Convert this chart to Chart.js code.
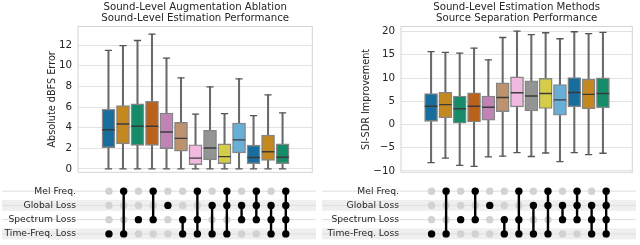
<!DOCTYPE html>
<html>
<head>
<meta charset="utf-8">
<script src="https://cdn.jsdelivr.net/npm/chart.js@4.4.1/dist/chart.umd.min.js"></script>
<style>
  body { margin: 0; background: #fff; }
  #wrap { position: relative; width: 640px; height: 245px; overflow: hidden; }
  canvas { position: absolute; }
</style>
</head>
<body>
<div id="wrap">
  <canvas id="boxL" width="320" height="180" style="left:0;top:0"></canvas>
  <canvas id="setL" width="320" height="65" style="left:0;top:180px"></canvas>
  <canvas id="boxR" width="320" height="180" style="left:320px;top:0"></canvas>
  <canvas id="setR" width="320" height="65" style="left:320px;top:180px"></canvas>
</div>
<script>
// rows of the matrix under each panel
const features = ['Mel Freq.', 'Global Loss', 'Spectrum Loss', 'Time-Freq. Loss'];
// which rows are switched on for each of the 13 configurations
const combos = [[3], [0, 3], [2], [0, 2], [1], [2, 3], [0, 2, 3], [1, 3], [0, 1, 3], [1, 2], [0, 1, 2], [1, 2, 3], [0, 1, 2, 3]];
const boxColors = ['#176D9C', '#C38820', '#168B6A', '#BA611B', '#C183B6', '#BD926E', '#F1B9E0',
                   '#949494', '#D5CD4A', '#68AFD7', '#176D9C', '#C38820', '#168B6A'];

// left: absolute dBFS error
const levelLow  = [0, 0, 0, 0, 0, 0, 0, 0, 0, 0, 0, 0, 0];
const levelQ1   = [2.06, 2.43, 2.28, 2.28, 1.97, 1.72, 0.42, 0.88, 0.51, 1.56, 0.51, 0.82, 0.51];
const levelMed  = [3.80, 4.36, 4.14, 4.14, 3.58, 2.96, 1.04, 2.03, 1.19, 2.81, 1.10, 1.66, 1.13];
const levelQ3   = [5.78, 6.15, 6.31, 6.56, 5.41, 4.51, 2.34, 3.74, 2.43, 4.45, 2.31, 3.27, 2.43];
const levelHigh = [11.49, 11.95, 12.45, 13.07, 10.74, 8.82, 5.32, 7.95, 5.35, 8.73, 5.16, 7.18, 5.44];
const levelTicks = [0, 2, 4, 6, 8, 10, 12];

// right: SI-SDR improvement
const sdrLow  = [-8.20, -7.23, -8.82, -9.03, -6.96, -6.82, -6.07, -6.90, -6.14, -8.00, -6.07, -6.49, -6.20];
const sdrQ1   = [0.68, 1.45, 0.27, 0.54, 0.95, 2.75, 3.78, 2.89, 3.43, 1.98, 3.78, 3.37, 3.57];
const sdrMed  = [3.92, 4.26, 3.37, 3.92, 3.72, 5.79, 6.82, 6.12, 6.67, 5.29, 6.88, 6.47, 6.67];
const sdrQ3   = [6.67, 6.94, 6.12, 6.82, 6.12, 8.95, 10.25, 9.42, 9.92, 8.60, 10.12, 9.77, 10.04];
const sdrHigh = [15.70, 15.50, 15.35, 16.45, 13.90, 18.72, 20.10, 19.34, 19.75, 18.45, 19.96, 19.55, 19.83];
const sdrTicks = [-10, -5, 0, 5, 10, 15, 20];

Chart.defaults.font.family = 'DejaVu Sans';
Chart.defaults.color = '#262626';
Chart.defaults.animation = false;

const X_MIN = -2.1, X_MAX = 14.05;

// light frame around the plot area
const framePlugin = {
    id: 'frame',
    beforeDatasetsDraw(chart) {
        const a = chart.chartArea, ctx = chart.ctx;
        ctx.save();
        ctx.strokeStyle = '#d4d4d4';
        ctx.lineWidth = 1;
        ctx.strokeRect(a.left, a.top, a.right - a.left, a.bottom - a.top);
        ctx.restore();
    }
};

// row guides and shaded bands of the matrix
const rowsPlugin = {
    id: 'rows',
    beforeDraw(chart) {
        const ctx = chart.ctx, y = chart.scales.y, right = chart.chartArea.right;
        ctx.save();
        features.forEach((f, i) => {
            const py = y.getPixelForValue(i);
            if (i % 2 === 1) {
                ctx.fillStyle = '#efefef';
                ctx.fillRect(2, py - 5.5, right - 2, 11);
            }
            ctx.strokeStyle = '#dedede';
            ctx.lineWidth = 1;
            ctx.beginPath();
            ctx.moveTo(2, py);
            ctx.lineTo(right, py);
            ctx.stroke();
        });
        ctx.restore();
    }
};

function minus(v) {
    return v < 0 ? '\u2212' + Math.abs(v) : String(v);
}

function boxChart(id, title, yTitle, ticks, yMin, yMax, low, q1, med, q3, high, axisW, titlePad, padRight) {
    const idx = low.map((v, i) => i);
    new Chart(document.getElementById(id), {
        type: 'bar',
        data: {
            datasets: [
                {   // whiskers
                    type: 'bar',
                    data: idx.map(i => ({ x: i, y: [low[i], high[i]] })),
                    backgroundColor: '#6a6a6a',
                    barThickness: 1.4,
                    grouped: false,
                    order: 3
                },
                {   // boxes
                    type: 'bar',
                    data: idx.map(i => ({ x: i, y: [q1[i], q3[i]] })),
                    backgroundColor: boxColors,
                    borderColor: '#858585',
                    borderWidth: 1.4,
                    borderSkipped: false,
                    barThickness: 13,
                    grouped: false,
                    order: 2
                },
                {   // whisker caps
                    type: 'scatter',
                    data: idx.flatMap(i => [{ x: i, y: low[i] }, { x: i, y: high[i] }]),
                    pointStyle: 'line',
                    pointRadius: 3.6,
                    borderColor: '#555',
                    borderWidth: 1.3,
                    order: 1
                },
                {   // medians
                    type: 'scatter',
                    data: idx.map(i => ({ x: i, y: med[i] })),
                    pointStyle: 'line',
                    pointRadius: 6.3,
                    borderColor: '#3a3a3a',
                    borderWidth: 1.4,
                    order: 0
                }
            ]
        },
        options: {
            responsive: false,
            events: [],
            layout: { padding: { left: 0, right: padRight, top: 0, bottom: 2 } },
            plugins: {
                legend: { display: false },
                tooltip: { enabled: false },
                title: {
                    display: true,
                    text: title,
                    fullSize: false,
                    font: { size: 10.2, weight: 'normal', lineHeight: 1.15 },
                    color: '#262626',
                    padding: { top: 1, bottom: 2 }
                }
            },
            scales: {
                x: { type: 'linear', min: X_MIN, max: X_MAX, offset: false, display: false },
                y: {
                    min: yMin, max: yMax,
                    afterBuildTicks: s => { s.ticks = ticks.map(v => ({ value: v })); },
                    afterFit: s => { s.width = axisW; s.paddingTop = 0; s.paddingBottom = 0; },
                    ticks: { padding: 6, font: { size: 10.3 }, color: '#262626', callback: v => minus(v) },
                    grid: { color: '#e2e2e2', drawTicks: false },
                    border: { display: false },
                    title: {
                        display: true, text: yTitle,
                        font: { size: 9.7 }, color: '#262626',
                        padding: { top: titlePad, bottom: 0 }
                    }
                }
            }
        },
        plugins: [framePlugin]
    });
}

function setChart(id, axisW, padRight) {
    const on = [], off = [], links = [];
    combos.forEach((rows, c) => {
        features.forEach((f, r) => {
            (rows.includes(r) ? on : off).push({ x: c, y: f });
        });
        if (rows.length > 1) {
            links.push({ x: c, y: features[Math.min(...rows)] });
            links.push({ x: c, y: features[Math.max(...rows)] });
            links.push({ x: c, y: null });
        }
    });
    new Chart(document.getElementById(id), {
        type: 'scatter',
        data: {
            datasets: [
                { data: on, backgroundColor: '#000', borderWidth: 0, pointRadius: 3.7, order: 0 },
                { type: 'line', data: links, borderColor: '#000', borderWidth: 2.4,
                  pointRadius: 0, spanGaps: false, order: 1 },
                { data: off, backgroundColor: '#d2d2d2', borderWidth: 0, pointRadius: 3.7, order: 2 }
            ]
        },
        options: {
            responsive: false,
            events: [],
            layout: { padding: { left: 0, right: padRight, top: 0.5, bottom: 1 } },
            plugins: { legend: { display: false }, tooltip: { enabled: false } },
            scales: {
                x: { type: 'linear', min: X_MIN, max: X_MAX, display: false },
                y: {
                    type: 'category',
                    labels: features,
                    offset: true,
                    afterFit: s => { s.width = axisW; s.paddingTop = 0; s.paddingBottom = 0; },
                    ticks: { padding: 2, autoSkip: false, font: { size: 9.2 }, color: '#262626' },
                    grid: { display: false, drawTicks: false },
                    border: { display: false }
                }
            }
        },
        plugins: [rowsPlugin]
    });
}

boxChart('boxL', ['Sound-Level Augmentation Ablation', 'Sound-Level Estimation Performance'],
         'Absolute dBFS Error', levelTicks, -0.33, 13.81,
         levelLow, levelQ1, levelMed, levelQ3, levelHigh, 78, 47, 4);
boxChart('boxR', ['Sound-Level Estimation Methods', 'Source Separation Performance'],
         'SI-SDR Improvement', sdrTicks, -10.3, 21.1,
         sdrLow, sdrQ1, sdrMed, sdrQ3, sdrHigh, 81, 41, 1.5);
setChart('setL', 78, 4);
setChart('setR', 81, 1.5);
</script>
</body>
</html>
